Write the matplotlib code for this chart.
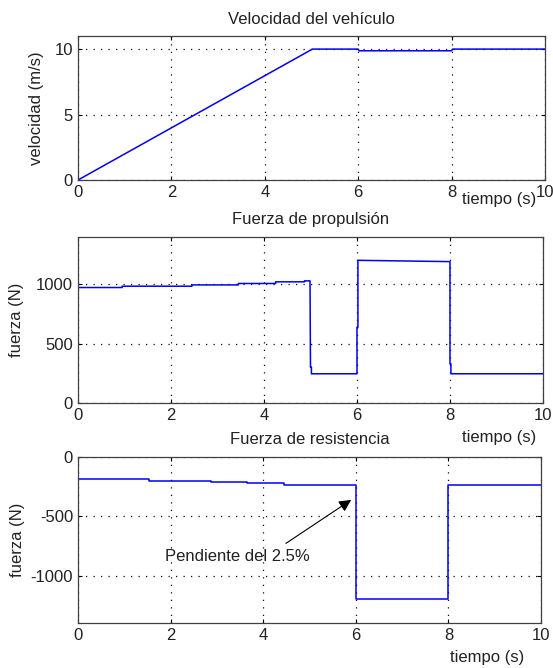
import matplotlib
matplotlib.use("Agg")
import matplotlib.pyplot as plt
import numpy as np

plt.rcParams['font.family'] = ['Liberation Sans', 'DejaVu Sans']
plt.rcParams['font.size'] = 12
plt.rcParams['axes.unicode_minus'] = False

# velocidad del vehiculo
t_vel = [0, 5.02, 6.0, 6.02, 8.0, 8.02, 10]
v_vel = [0, 10, 10, 9.87, 9.87, 10, 10]

# fuerza de propulsion
t_prop = [0, 0.95, 0.95, 2.45, 2.45, 3.45, 3.45, 4.25, 4.25, 4.87, 4.87, 4.99,
          5.0, 5.02, 5.02, 6.0, 6.0, 6.02, 6.02, 8.0, 8.0, 8.02, 8.02, 10]
f_prop = [972, 972, 983, 983, 994, 994, 1006, 1006, 1020, 1020, 1028, 1028,
          302, 302, 246, 246, 637, 637, 1201, 1190, 330, 330, 246, 246]

# fuerza de resistencia
t_res = [0, 1.53, 1.53, 2.87, 2.87, 3.65, 3.65, 4.45, 4.45, 6.0, 6.0, 8.0, 8.0, 10]
f_res = [-186, -186, -201, -201, -212, -212, -223, -223, -234, -234,
         -1200, -1200, -234, -234]

titles = ['Velocidad del vehículo', 'Fuerza de propulsión', 'Fuerza de resistencia']
ylabels = ['velocidad (m/s)', 'fuerza (N)', 'fuerza (N)']
ylims = [(0, 11), (0, 1400), (-1400, 0)]
yticks = [[0, 5, 10], [0, 500, 1000], [-1000, -500, 0]]
xticks = [0, 2, 4, 6, 8, 10]

texto_nota = 'Pendiente del 2.5%'
nota_pos = (3.44, -842)
flecha_ini = (4.49, -729)
flecha_fin = (5.9, -362)

fig = plt.figure(figsize=(5.53, 6.68), dpi=100)
posiciones = [[0.141, 0.7305, 0.8445, 0.2156],
              [0.141, 0.3967, 0.8409, 0.2490],
              [0.141, 0.0674, 0.8373, 0.2485]]
tiempo_pos = [(0.902, -0.083), (0.905, -0.163), (0.884, -0.165)]
labelpads = [8, 9, 4]

datos = [(t_vel, v_vel), (t_prop, f_prop), (t_res, f_res)]

for i in range(3):
    ax = fig.add_axes(posiciones[i])
    t, y = datos[i]
    ax.plot(t, y, color='#0000ff', lw=1.1)
    ax.set_xlim(0, 10)
    ax.set_ylim(*ylims[i])
    ax.set_xticks(xticks)
    ax.set_yticks(yticks[i])
    ax.grid(True, color='0.05', linestyle=(0, (1, 5)), lw=0.9)
    ax.tick_params(direction='in', top=True, right=True, length=3, width=0.8,
                   colors='k', labelcolor='#222222')
    for s in ax.spines.values():
        s.set_color('0.25')
        s.set_linewidth(0.9)
    ax.set_title(titles[i], pad=9, fontsize=12, color='#222222')
    ax.set_ylabel(ylabels[i], labelpad=labelpads[i], color='#222222')
    ax.text(tiempo_pos[i][0], tiempo_pos[i][1], 'tiempo (s)', transform=ax.transAxes,
            ha='center', va='top', color='#222222')
    if i == 2:
        ax.text(nota_pos[0], nota_pos[1], texto_nota, ha='center', va='center',
                color='#222222')
        ax.annotate('', xy=flecha_fin, xytext=flecha_ini,
                    arrowprops=dict(arrowstyle='-|>', color='k', lw=0.8,
                                    mutation_scale=18, shrinkA=0, shrinkB=0))

fig.savefig('out.png', dpi=100)
